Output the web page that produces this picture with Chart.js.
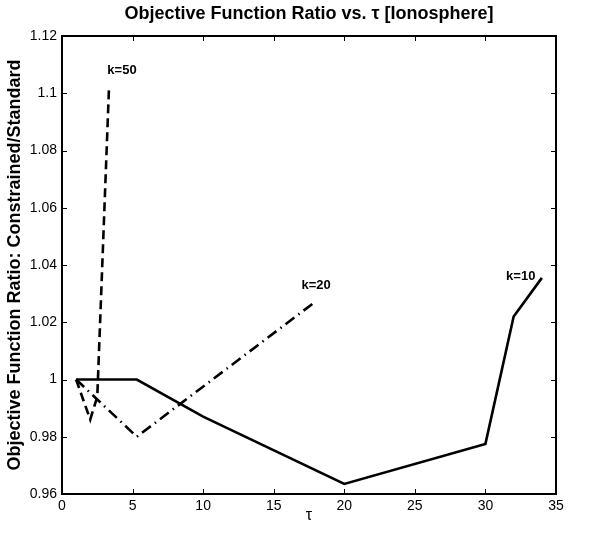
<!DOCTYPE html>
<html>
<head>
<meta charset="utf-8">
<script src="https://cdn.jsdelivr.net/npm/chart.js@4"></script>
<style>
  body { margin: 0; background: #fff; }
  #wrap { width: 590px; height: 536px; }
</style>
</head>
<body>
<div id="wrap"><canvas id="myChart" width="590" height="536"></canvas></div>
<script>
// values
const tauK10 = [1, 5.3, 10, 20, 30, 32, 34];
const ratioK10 = [1.0, 1.0, 0.987, 0.9635, 0.9775, 1.022, 1.0355];

const tauK20 = [1, 5.3, 17.9];
const ratioK20 = [1.0, 0.98, 1.027];

const tauK50 = [1, 2.0, 2.5, 3.33];
const ratioK50 = [1.0, 0.986, 0.994, 1.102];

const xTicks = [0, 5, 10, 15, 20, 25, 30, 35];
const yTicks = [0.96, 0.98, 1.0, 1.02, 1.04, 1.06, 1.08, 1.1, 1.12];
const yTickLabels = ["0.96", "0.98", "1", "1.02", "1.04", "1.06", "1.08", "1.1", "1.12"];

const seriesLabels = ["k=10", "k=20", "k=50"];
const labelX = [32.5, 18.0, 4.25];
const labelY = [1.036, 1.033, 1.108];

const FONT = "'Liberation Sans', Arial, Helvetica, sans-serif";

const toPoints = (xs, ys) => xs.map((x, i) => ({ x: x, y: ys[i] }));

// frame, inward ticks on all four sides, and the k= labels
const matlabAxes = {
  id: "matlabAxes",
  afterDatasetsDraw(chart) {
    const ctx = chart.ctx;
    const a = chart.chartArea;
    const xs = chart.scales.x;
    const ys = chart.scales.y;
    const len = 5;

    ctx.save();
    ctx.strokeStyle = "#000";
    ctx.lineWidth = 1;
    ctx.beginPath();
    xTicks.forEach(t => {
      const px = Math.round(xs.getPixelForValue(t)) + 0.5;
      ctx.moveTo(px, a.bottom);
      ctx.lineTo(px, a.bottom - len);
      ctx.moveTo(px, a.top);
      ctx.lineTo(px, a.top + len);
    });
    yTicks.forEach(t => {
      const py = Math.round(ys.getPixelForValue(t)) + 0.5;
      ctx.moveTo(a.left, py);
      ctx.lineTo(a.left + len, py);
      ctx.moveTo(a.right, py);
      ctx.lineTo(a.right - len, py);
    });
    ctx.stroke();

    ctx.lineWidth = 2;
    ctx.strokeRect(a.left, a.top, a.right - a.left, a.bottom - a.top);

    ctx.fillStyle = "#000";
    ctx.font = "bold 13px " + FONT;
    ctx.textAlign = "center";
    ctx.textBaseline = "middle";
    seriesLabels.forEach((lbl, i) => {
      ctx.fillText(lbl, xs.getPixelForValue(labelX[i]), ys.getPixelForValue(labelY[i]));
    });
    ctx.restore();
  }
};

const canvas = document.getElementById("myChart");
const ctx = canvas.getContext("2d");
const myChart = new Chart(ctx, {
  type: "line",
  data: {
    datasets: [
      {
        label: seriesLabels[0],
        data: toPoints(tauK10, ratioK10),
        borderColor: "#000",
        borderWidth: 2.6,
      },
      {
        label: seriesLabels[1],
        data: toPoints(tauK20, ratioK20),
        borderColor: "#000",
        borderWidth: 2.6,
        borderDash: [11, 5, 1.5, 5],
      },
      {
        label: seriesLabels[2],
        data: toPoints(tauK50, ratioK50),
        borderColor: "#000",
        borderWidth: 2.6,
        borderDash: [9, 5],
      },
    ],
  },
  options: {
    responsive: false,
    animation: false,
    events: [],
    layout: { padding: { left: 0, right: 34, top: 0, bottom: 0 } },
    elements: {
      point: { radius: 0 },
      line: { tension: 0, fill: false, borderCapStyle: "butt", borderJoinStyle: "miter" },
    },
    plugins: {
      legend: { display: false },
      tooltip: { enabled: false },
      title: {
        display: true,
        fullSize: false,
        text: "Objective Function Ratio vs. τ [Ionosphere]",
        color: "#000",
        font: { family: FONT, size: 18, weight: "bold", lineHeight: 1.2 },
        padding: { top: 3, bottom: 11.4 },
      },
    },
    scales: {
      x: {
        type: "linear",
        min: 0,
        max: 35,
        grid: { display: false, drawTicks: false },
        border: { display: false },
        afterBuildTicks: scale => {
          scale.ticks = xTicks.map(v => ({ value: v }));
        },
        ticks: {
          color: "#000",
          padding: 4,
          maxRotation: 0,
          font: { family: FONT, size: 14 },
          callback: v => String(v),
        },
        title: {
          display: true,
          text: "τ",
          color: "#000",
          font: { family: FONT, size: 16 },
          padding: { top: 2, bottom: 11 },
        },
        afterFit: scale => { scale.height = 42; },
      },
      y: {
        type: "linear",
        min: 0.96,
        max: 1.12,
        grid: { display: false, drawTicks: false },
        border: { display: false },
        afterBuildTicks: scale => {
          scale.ticks = yTicks.map(v => ({ value: v }));
        },
        ticks: {
          color: "#000",
          padding: 5,
          font: { family: FONT, size: 14 },
          callback: (v, i) => yTickLabels[i],
        },
        title: {
          display: true,
          text: "Objective Function Ratio: Constrained/Standard",
          color: "#000",
          font: { family: FONT, size: 18, weight: "bold", lineHeight: 1.2 },
          padding: { top: 4, bottom: 0 },
        },
        afterFit: scale => { scale.width = 62; },
      },
    },
  },
  plugins: [matlabAxes],
});
</script>
</body>
</html>
